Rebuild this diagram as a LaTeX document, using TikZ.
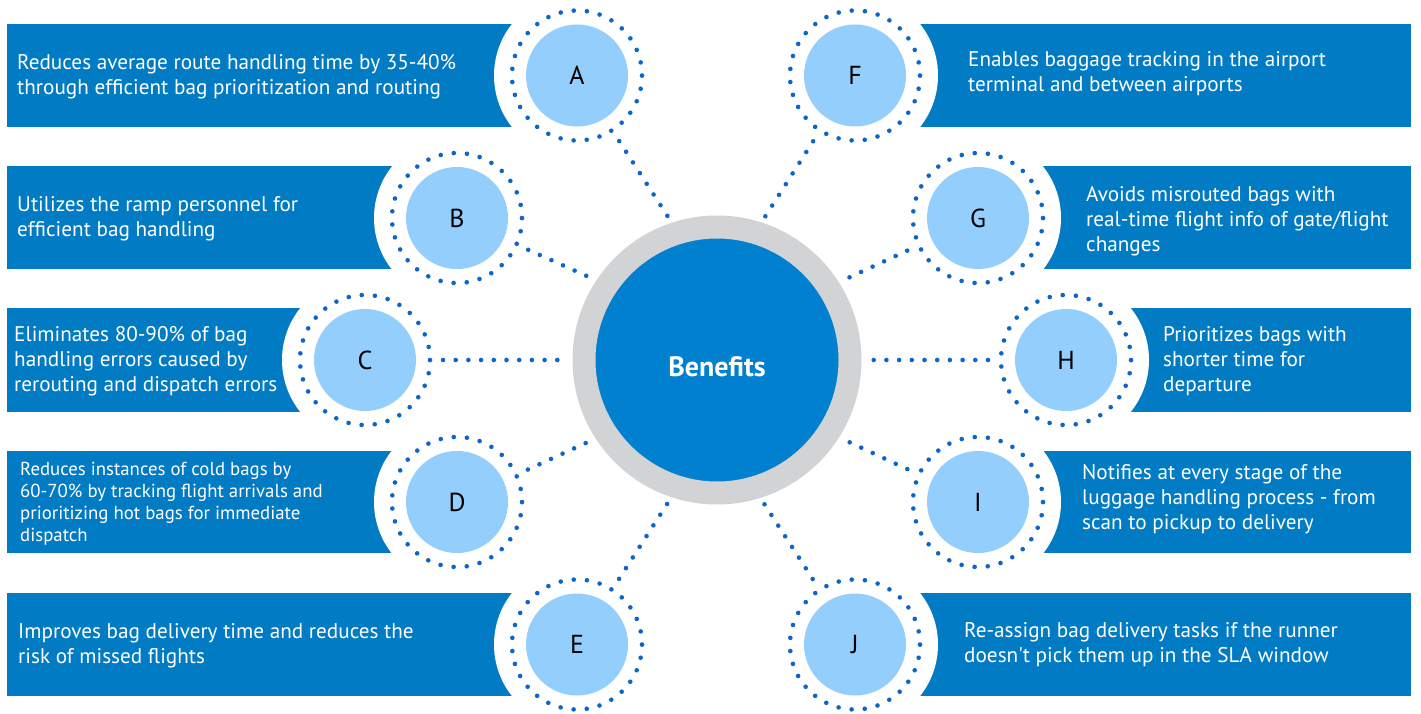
\documentclass[tikz,border=0pt]{standalone}
\usepackage{fontspec}
\setmainfont{PT Sans}
\usetikzlibrary{calc}
\definecolor{bannerblue}{HTML}{007BC4}
\definecolor{centerblue}{HTML}{0080CE}
\definecolor{lightc}{HTML}{94CEFC}
\definecolor{dotc}{HTML}{0B66CA}
\definecolor{ringgray}{HTML}{D1D3D4}
\tikzset{
  banner/.style={fill=bannerblue},
  cutout/.style={fill=white},
  ringdots/.style={draw=dotc, line width=4.6pt, line cap=round, dash pattern=on 0pt off 13.17pt},
  lc/.style={circle, fill=lightc, minimum size=102pt, inner sep=0pt, font=\fontsize{26}{30}\selectfont},
  conn/.style={draw=dotc, line width=4.6pt, line cap=round, dash pattern=on 0pt off 12.7pt},
  txt/.style={anchor=west, align=left, inner sep=0pt, text=white, font=\fontsize{21.2}{25}\selectfont},
  txtsmall/.style={anchor=west, align=left, inner sep=0pt, text=white, font=\fontsize{18.8}{22}\selectfont},
  hub/.style={circle, fill=centerblue, draw=ringgray, line width=23pt, minimum size=266pt, inner sep=0pt, outer sep=0pt, text=white, font=\bfseries\fontsize{28}{32}\selectfont}
}
\begin{document}
\begin{tikzpicture}[x=1pt,y=-1pt]
\useasboundingbox (0,0) rectangle (1421,714);
% circle centres
\coordinate (cA) at (577,75.5);
\coordinate (cB) at (457,218);
\coordinate (cC) at (365,360);
\coordinate (cD) at (457,502);
\coordinate (cE) at (577,644.5);
\coordinate (cF) at (855,75.5);
\coordinate (cG) at (978,218);
\coordinate (cH) at (1066,360);
\coordinate (cI) at (978,502);
\coordinate (cJ) at (855,644.5);
% banners
\fill[banner] (7,24) rectangle (577,127);
\fill[banner] (7,166) rectangle (457,269);
\fill[banner] (7,308) rectangle (365,412);
\fill[banner] (7,451) rectangle (457,553);
\fill[banner] (7,593) rectangle (577,696);
\fill[banner] (855,24) rectangle (1411,127);
\fill[banner] (978,166) rectangle (1411,269);
\fill[banner] (1066,308) rectangle (1411,412);
\fill[banner] (978,451) rectangle (1411,553);
\fill[banner] (855,593) rectangle (1411,696);
% cutouts and rings
\foreach \c in {cA,cB,cC,cD,cE,cF,cG,cH,cI,cJ}{
  \fill[cutout] (\c) circle[radius=83pt];
  \draw[ringdots] (\c) circle[radius=65pt];
}
% letter circles
\node[lc] (A) at (cA) {A};
\node[lc] (B) at (cB) {B};
\node[lc] (C) at (cC) {C};
\node[lc] (D) at (cD) {D};
\node[lc] (E) at (cE) {E};
\node[lc] (F) at (cF) {F};
\node[lc] (G) at (cG) {G};
\node[lc] (H) at (cH) {H};
\node[lc] (I) at (cI) {I};
\node[lc] (J) at (cJ) {J};
% connector end points on the hub
\coordinate (eA) at (670,220);
\coordinate (eF) at (763,220);
\coordinate (eB) at (589,277);
\coordinate (eG) at (848,278);
\coordinate (eC) at (568,360);
\coordinate (eH) at (866,360);
\coordinate (eD) at (588,442);
\coordinate (eI) at (849,442);
\coordinate (eE) at (669,501);
\coordinate (eJ) at (763,502);
\foreach \n in {A,B,C,D,E,F,G,H,I,J}{
  \draw[conn] ($(c\n)!78pt!(e\n)$) -- (e\n);
}
% hub
\node[hub] (hub) at (717,360) {\raisebox{-16pt}[0pt][0pt]{Benefits}};
% texts
\node[txt] (tA) at (17,77) {Reduces average route handling time by 35-40\%\\through efficient bag prioritization and routing};
\node[txt] (tB) at (17,219) {Utilizes the ramp personnel for\\efficient bag handling};
\node[txt] (tC) at (14,361) {Eliminates 80-90\% of bag\\handling errors caused by\\rerouting and dispatch errors};
\node[txtsmall] (tD) at (20,504) {Reduces instances of cold bags by\\60-70\% by tracking flight arrivals and\\prioritizing hot bags for immediate\\dispatch};
\node[txt] (tE) at (18,646) {Improves bag delivery time and reduces the\\risk of missed flights};
\node[txt] (tF) at (968,74) {Enables baggage tracking in the airport\\terminal and between airports};
\node[txt] (tG) at (1086,221) {Avoids misrouted bags with\\real-time flight info of gate/flight\\changes};
\node[txt] (tH) at (1163,361) {Prioritizes bags with\\shorter time for\\departure};
\node[txt] (tI) at (1082,499) {Notifies at every stage of the\\luggage handling process - from\\scan to pickup to delivery};
\node[txt] (tJ) at (964,645) {Re-assign bag delivery tasks if the runner\\doesn\textquotesingle t pick them up in the SLA window};
\end{tikzpicture}
\end{document}
